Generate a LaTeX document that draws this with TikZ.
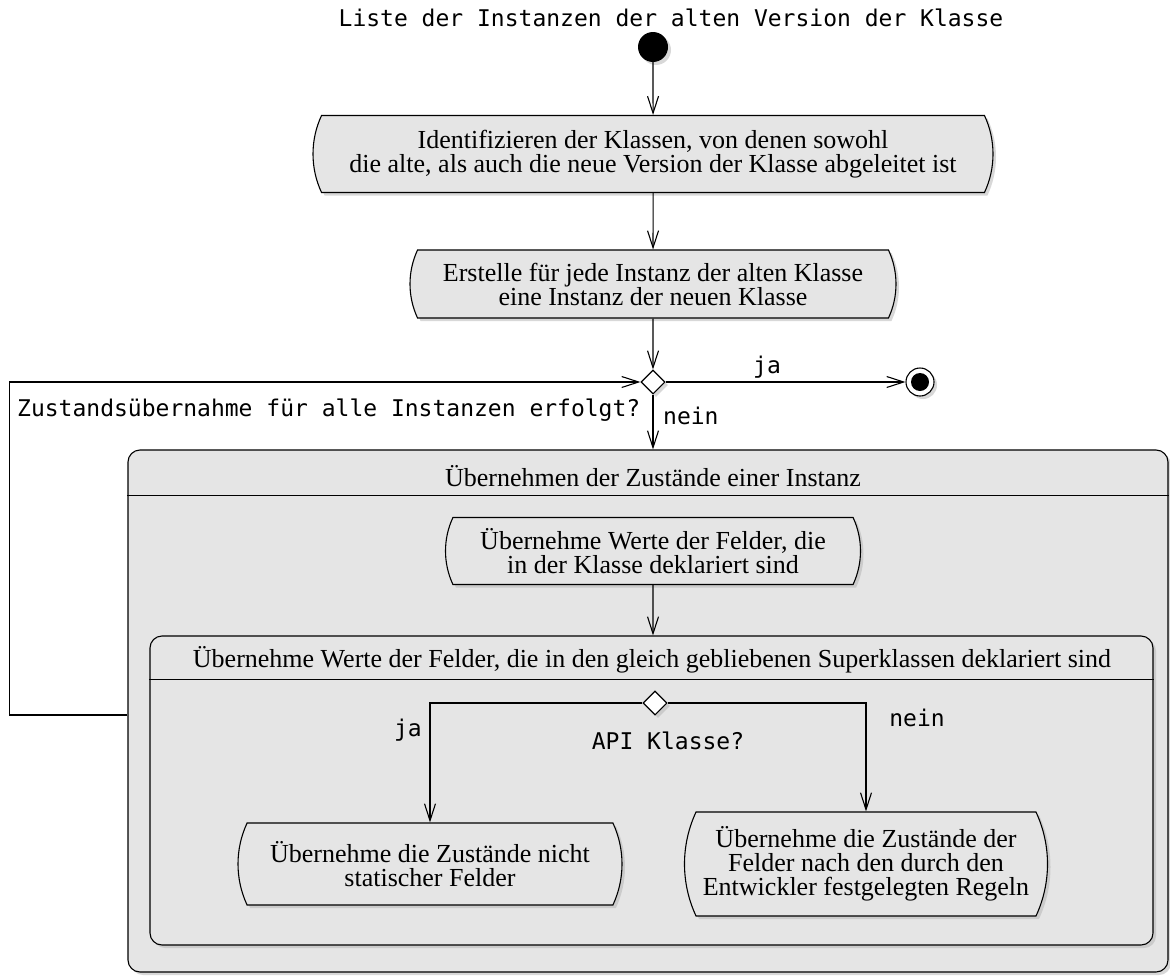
\documentclass[tikz,border=0pt]{standalone}
\usepackage{fontspec}
\setmainfont{Liberation Serif}
\setmonofont{DejaVu Sans Mono}
\usetikzlibrary{shapes.misc,shapes.geometric,shadows,arrows.meta}

\definecolor{actgray}{HTML}{E5E5E5}

\begin{document}
\begin{tikzpicture}
			[x=1pt,y=-1pt,every node/.style={font=\fontsize{26}{24}\selectfont},
			mono/.style={font=\ttfamily\fontsize{23}{26}\selectfont,inner sep=0},
			shadowed/.style={drop shadow={shadow xshift=3pt,shadow yshift=-3pt,fill=black!30}},
			act/.style={rounded rectangle,rounded rectangle arc length=50,draw,line width=1.1pt,fill=actgray,align=center,inner sep=0,shadowed},
			group/.style={rectangle,draw,rounded corners=12pt,fill=actgray,line width=1.1pt,inner sep=0,shadowed},
			decision/.style={diamond,draw,fill=white,minimum width=24pt,minimum height=24pt,inner sep=0,line width=1.1pt,shadowed},
			edge/.style={-{Straight Barb[length=17pt,width=11pt]},line width=1.1pt}]
			\useasboundingbox (0,0) rectangle (1170,977);
			
			\node[mono] (title) at (671,18) {Liste der Instanzen der alten Version der Klasse};
			\node[circle,fill=black,minimum size=30pt,inner sep=0,shadowed] (start) at (653,47) {};
			\node[act,minimum width=680pt,minimum height=77pt] (ident) at (653,154) {Identifizieren der Klassen, von denen sowohl\\die alte, als auch die neue Version der Klasse abgeleitet ist};
			\node[act,minimum width=486pt,minimum height=68pt] (create) at (653,284) {Erstelle für jede Instanz der alten Klasse\\eine Instanz der neuen Klasse};
			\node[decision] (alldone) at (653,382) {};
			\node[circle,draw,fill=white,line width=1.1pt,minimum size=28pt,inner sep=0,shadowed,
				path picture={\fill[black] (path picture bounding box.center) circle (9pt);}] (stop) at (920,382) {};
			
			% Zustand einer Instanz
			\node[group,minimum width=1040pt,minimum height=522pt] (outer) at (648,711) {};
			\draw[line width=1.1pt] ([yshift=-46pt]outer.north west) -- ([yshift=-46pt]outer.north east);
			\node (outertitle) at (653,476) {Übernehmen der Zustände einer Instanz};
			\node[act,minimum width=415pt,minimum height=67pt] (own) at (653,551) {Übernehme Werte der Felder, die\\in der Klasse deklariert sind};
			
			% Superklassen
			\node[group,minimum width=1003pt,minimum height=309pt] (inner) at (651.5,790.5) {};
			\draw[line width=1.1pt] ([yshift=-44pt]inner.north west) -- ([yshift=-44pt]inner.north east);
			\node (innertitle) at (652,660) {Übernehme Werte der Felder, die in den gleich gebliebenen Superklassen deklariert sind};
			\node[decision] (api) at (655,703) {};
			\node[act,minimum width=384pt,minimum height=82pt] (nonstatic) at (430,864) {Übernehme die Zustände nicht\\statischer Felder};
			\node[act,minimum width=363pt,minimum height=104pt] (rules) at (866,864) {Übernehme die Zustände der\\Felder nach den durch den\\Entwickler festgelegten Regeln};
			
			\node[mono] (ja1) at (767,367) {ja};
			\node[mono,anchor=west] (nein1) at (663,416) {nein};
			\node[mono,anchor=west] (loopq) at (17,410) {Zustandsübernahme für alle Instanzen erfolgt?};
			\node[mono,anchor=east] (ja2) at (422,730) {ja};
			\node[mono] (nein2) at (917,718) {nein};
			\node[mono] (apiq) at (668,741) {API Klasse?};
			
			\draw[edge] (start) -- (ident);
			\draw[edge] (ident) -- (create);
			\draw[edge] (create) -- (alldone);
			\draw[edge] (alldone) -- (stop);
			\draw[edge] (alldone.south) -- (alldone.south |- outer.north);
			\draw[edge] (own) -- (own.south |- inner.north);
			\draw[edge] ([yshift=-4pt]outer.west) -- ++(-118,0) |- (alldone.west);
			\draw[edge] (api.west) -| (nonstatic.north);
			\draw[edge] (api.east) -| (rules.north);
\end{tikzpicture}
\end{document}
